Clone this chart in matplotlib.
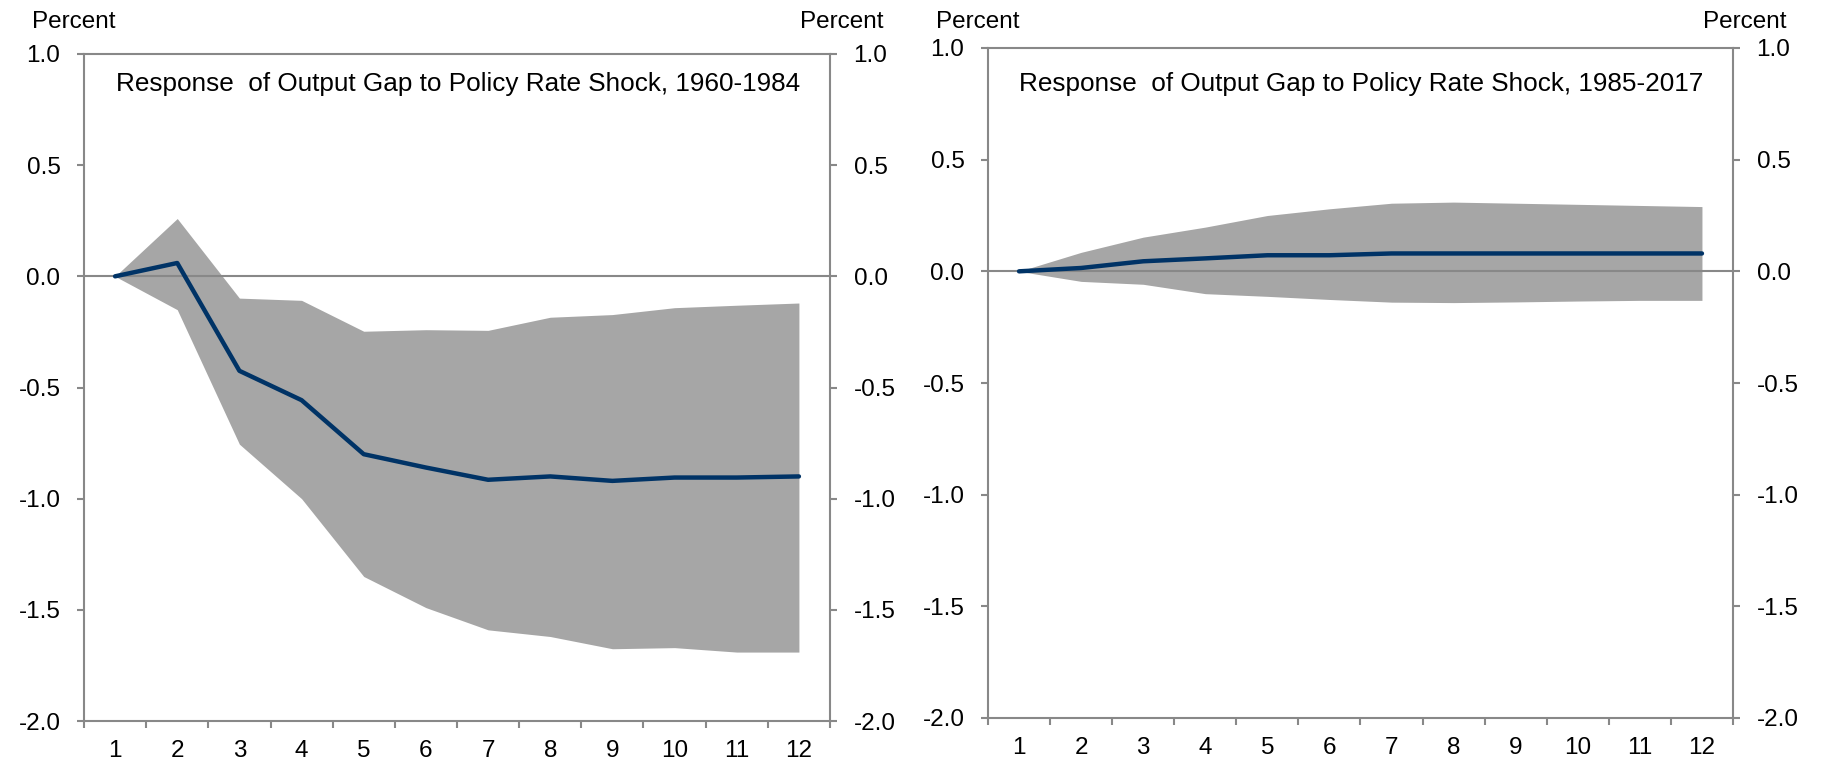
import matplotlib
matplotlib.use("Agg")
import matplotlib.pyplot as plt
import numpy as np

plt.rcParams['font.family'] = ['Liberation Sans', 'DejaVu Sans']

# ---- data ----
periods = list(range(1, 13))
xtick_labels = [str(p) for p in periods]
ytick_values = [-2.0, -1.5, -1.0, -0.5, 0.0, 0.5, 1.0]

title_left = "Response  of Output Gap to Policy Rate Shock, 1960-1984"
title_right = "Response  of Output Gap to Policy Rate Shock, 1985-2017"

left_irf = [0.0, 0.06, -0.425, -0.557, -0.80, -0.86, -0.915, -0.90, -0.92, -0.905, -0.905, -0.90]
left_upper = [0.0, 0.26, -0.098, -0.108, -0.247, -0.24, -0.243, -0.184, -0.172, -0.141, -0.13, -0.12]
left_lower = [0.0, -0.15, -0.755, -1.0, -1.35, -1.49, -1.59, -1.62, -1.675, -1.67, -1.69, -1.69]

right_irf = [0.0, 0.015, 0.045, 0.058, 0.072, 0.072, 0.08, 0.08, 0.08, 0.08, 0.08, 0.08]
right_upper = [0.0, 0.085, 0.153, 0.198, 0.25, 0.28, 0.305, 0.31, 0.305, 0.30, 0.295, 0.29]
right_lower = [0.0, -0.045, -0.058, -0.10, -0.112, -0.126, -0.138, -0.14, -0.137, -0.133, -0.13, -0.13]

# ---- style ----
W, H = 1824, 766
GRAY = '#888888'
FILL = '#A6A6A6'
NAVY = '#003366'
FS = 17.5
TFS = 18.8

fig = plt.figure(figsize=(W / 100, H / 100), dpi=100)


def px_axes(x0, x1, ytop, ybot):
    return fig.add_axes([x0 / W, 1 - ybot / H, (x1 - x0) / W, (ybot - ytop) / H])


def draw(ax, irf, up, lo, title, title_x):
    ax.fill_between(periods, lo, up, color=FILL, lw=0, zorder=1)
    ax.axhline(0, color=GRAY, lw=1.5, zorder=2)
    ax.plot(periods, irf, color=NAVY, lw=3.2, zorder=3, solid_capstyle='round')
    ax.set_xlim(0.5, 12.5)
    ax.set_ylim(-2.0, 1.0)
    ax.set_yticks(ytick_values)
    ax.set_yticklabels([f"{v:.1f}" for v in ytick_values])
    ax.set_xticks(np.arange(0.5, 13.0, 1.0))
    ax.set_xticklabels([])
    ax.set_xticks(periods, minor=True)
    ax.set_xticklabels(xtick_labels, minor=True)
    ax.tick_params(axis='x', which='major', direction='out', length=5, width=1.5, color=GRAY)
    ax.tick_params(axis='x', which='minor', length=0, pad=14, labelsize=FS)
    ax.tick_params(axis='y', which='major', direction='out', length=5, width=1.5, color=GRAY,
                   left=True, right=True, labelleft=True, labelright=True, pad=12, labelsize=FS)
    for s in ax.spines.values():
        s.set_color(GRAY)
        s.set_linewidth(1.5)
    fig.text(title_x / W, 1 - 84 / H, title, fontsize=TFS, va='center', ha='left')


axL = px_axes(84, 830, 54, 721)
draw(axL, left_irf, left_upper, left_lower, title_left, 116)
axR = px_axes(988, 1733, 48, 718)
draw(axR, right_irf, right_upper, right_lower, title_right, 1019)

# "Percent" unit labels
base = 1 - 28 / H
fig.text(32 / W, base, "Percent", fontsize=FS, ha='left', va='baseline')
fig.text(884 / W, base, "Percent", fontsize=FS, ha='right', va='baseline')
fig.text(936 / W, base, "Percent", fontsize=FS, ha='left', va='baseline')
fig.text(1787 / W, base, "Percent", fontsize=FS, ha='right', va='baseline')

fig.savefig("out.png", dpi=100)
